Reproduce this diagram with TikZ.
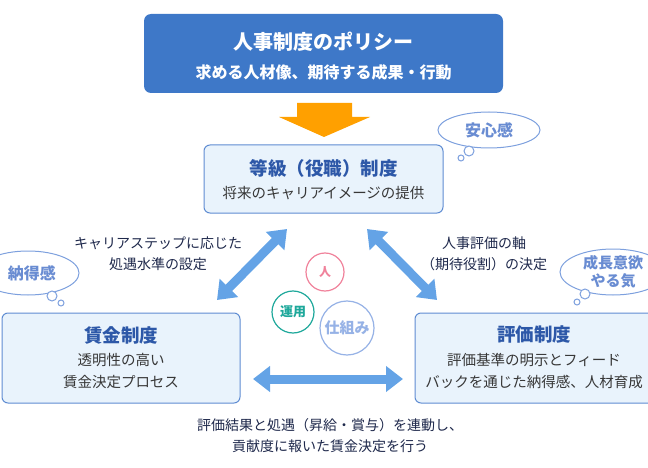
\documentclass[tikz,border=0pt]{standalone}
\usepackage{fontspec}
\setmainfont{Noto Sans CJK JP}
\usetikzlibrary{arrows.meta}
\definecolor{topblue}{RGB}{62,120,200}
\definecolor{boxfill}{RGB}{233,243,252}
\definecolor{boxline}{RGB}{95,140,210}
\definecolor{titleblue}{RGB}{45,88,168}
\definecolor{bodytext}{RGB}{55,55,55}
\definecolor{labeltext}{RGB}{30,40,75}
\definecolor{bubbleline}{RGB}{125,160,222}
\definecolor{bubbletext}{RGB}{105,140,210}
\definecolor{arrowblue}{RGB}{100,163,230}
\definecolor{arroworange}{RGB}{255,160,0}
\definecolor{pinkc}{RGB}{240,130,155}
\definecolor{tealc}{RGB}{30,168,155}
\definecolor{lbluec}{RGB}{150,178,230}
\tikzset{
  sysbox/.style={draw=boxline, line width=1pt, fill=boxfill, rounded corners=6pt},
  boxtitle/.style={text=titleblue, font=\fontsize{18.5}{22}\selectfont\bfseries},
  boxbody/.style={text=bodytext, align=center, font=\fontsize{14.5}{21.5}\selectfont},
  sidelabel/.style={text=labeltext, align=center, font=\fontsize{14}{21}\selectfont},
  bubble/.style={draw=bubbleline, line width=1pt, fill=white},
  bubbletxt/.style={text=bubbletext, align=center, font=\fontsize{16}{20}\selectfont\bfseries},
  dblarrow/.style={draw=arrowblue, line width=9pt,
     {Triangle[width=25pt,length=17pt]}-{Triangle[width=25pt,length=17pt]}},
  ring/.style={circle, draw, line width=1.2pt, fill=white, inner sep=0pt},
}
\begin{document}
\begin{tikzpicture}[x=1pt,y=-1pt]
\useasboundingbox (0,0) rectangle (648,468);
% top box
\fill[topblue, rounded corners=7pt] (144,14) rectangle (503,93);
\node[text=white, font=\fontsize{20}{24}\selectfont\bfseries] (policy) at (323.5,42) {人事制度のポリシー};
\node[text=white, font=\fontsize{16}{20}\selectfont\bfseries] (policysub) at (323.5,72) {求める人材像、期待する成果・行動};
% orange arrow
\fill[arroworange] (297,103) -- (352,103) -- (352,117) -- (370,117) -- (324,137) -- (279,117) -- (297,117) -- cycle;
% grade box
\draw[sysbox] (204,145) rectangle (443,213);
\node[boxtitle] (grade) at (323.5,168) {等級（役職）制度};
\node[boxbody] (gradesub) at (323.5,193) {将来のキャリアイメージの提供};
% wage box
\draw[sysbox] (2,313) rectangle (240,403);
\node[boxtitle] (wage) at (121,335) {賃金制度};
\node[boxbody] (wagesub) at (121,371) {透明性の高い\\賃金決定プロセス};
% evaluation box
\draw[sysbox] (415,313) rectangle (660,403);
\node[boxtitle] (eval) at (534,335) {評価制度};
\node[boxbody] (evalsub) at (534,371) {評価基準の明示とフィード\\バックを通じた納得感、人材育成};
% labels
\node[sidelabel] (lblL) at (158,254) {キャリアステップに応じた\\処遇水準の設定};
\node[sidelabel] (lblR) at (484,254) {人事評価の軸\\（期待役割）の決定};
\node[sidelabel] (lblB) at (330,436) {評価結果と処遇（昇給・賞与）を連動し、\\貢献度に報いた賃金決定を行う};
% arrows
\coordinate (aLt) at (287,229); \coordinate (aLb) at (217,300);
\coordinate (aRt) at (367,229); \coordinate (aRb) at (437,300);
\coordinate (aHl) at (253,379); \coordinate (aHr) at (403,379);
\draw[dblarrow] (aLt) -- (aLb);
\draw[dblarrow] (aRt) -- (aRb);
\draw[dblarrow] (aHl) -- (aHr);
% circles
\node[ring, draw=pinkc, text=pinkc, minimum size=38pt, font=\fontsize{12}{14}\selectfont\bfseries] (hito) at (325,272) {人};
\node[ring, draw=tealc, text=tealc, minimum size=42pt, font=\fontsize{13}{15}\selectfont\bfseries] (unyo) at (293,312) {運用};
\node[ring, draw=lbluec, text=lbluec, minimum size=54pt, font=\fontsize{15}{17}\selectfont\bfseries] (shikumi) at (347,328) {仕組み};
% bubbles
\draw[bubble] (489,130) ellipse [x radius=51, y radius=18];
\draw[bubble] (469,151) circle (5);
\draw[bubble] (461,158) circle (3);
\node[bubbletxt] (anshin) at (489,130) {安心感};
\draw[bubble] (28,273) ellipse [x radius=51, y radius=22];
\draw[bubble] (52,296) circle (5);
\draw[bubble] (61,303) circle (3);
\node[bubbletxt] (natoku) at (32,273) {納得感};
\draw[bubble] (613,272) ellipse [x radius=53, y radius=23];
\draw[bubble] (585,294) circle (5);
\draw[bubble] (577,302) circle (3);
\node[bubbletxt, font=\fontsize{15}{18}\selectfont\bfseries] (seicho) at (613,272) {成長意欲\\やる気};
\end{tikzpicture}
\end{document}
